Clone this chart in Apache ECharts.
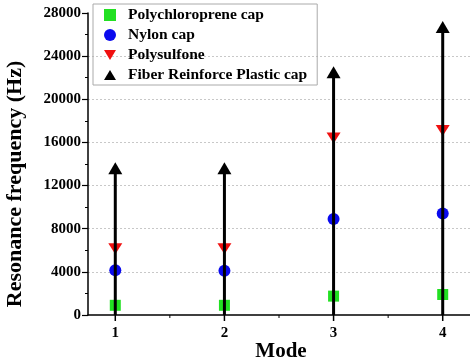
<!DOCTYPE html>
<html><head><meta charset="utf-8">
<script src="https://cdn.jsdelivr.net/npm/echarts@6/dist/echarts.min.js"></script>
<style>html,body{margin:0;padding:0;background:#fff}#c{width:470px;height:364px}</style>
</head><body><div id="c"></div>
<script>
var modes = [1, 2, 3, 4];
var polychloroprene = [900, 900, 1750, 1900];
var nylon = [4150, 4100, 8900, 9400];
var polysulfone = [6150, 6150, 16400, 17100];
var frp = [13600, 13600, 22500, 26700];
var yTicks = [0, 4000, 8000, 12000, 16000, 20000, 24000, 28000];
var names = ['Polychloroprene cap', 'Nylon cap', 'Polysulfone', 'Fiber Reinforce Plastic cap'];

function pts(arr){ return modes.map(function(m,i){ return [m, arr[i]]; }); }
var F = 'Liberation Serif, Times New Roman, serif';
var chart = echarts.init(document.getElementById('c'));
chart.setOption({
  animation: false,
  grid: {left: 88, top: 13, width: 385, height: 302},
  xAxis: {
    type: 'value', min: 0.75, max: 4.25, interval: 0.5,
    axisLine: {lineStyle: {color: '#000', width: 1.5}},
    axisTick: {show: false},
    minorTick: {show: false},
    splitLine: {show: false},
    axisLabel: {show: false}
  },
  yAxis: {
    type: 'value', min: 0, max: 28000, interval: 4000,
    axisLine: {show: true, lineStyle: {color: '#000', width: 1.5}},
    axisTick: {show: true, length: 6, lineStyle: {color: '#000', width: 1.2}},
    minorTick: {show: true, splitNumber: 2, length: 3, lineStyle: {color: '#000', width: 1}},
    splitLine: {show: true, showMinLine: false, showMaxLine: false, lineStyle: {color: '#c8c8c8', type: [2, 2], width: 1}},
    axisLabel: {color: '#000', fontFamily: F, fontWeight: 'bold', fontSize: 15, margin: 7,
      formatter: function(v){ return yTicks.indexOf(v) >= 0 ? String(v) : ''; }}
  },
  legend: {
    orient: 'vertical', left: 93, top: 4, padding: [3, 10, 2, 11],
    itemWidth: 12, itemHeight: 12, itemGap: 4,
    borderColor: '#aaa', borderWidth: 1,
    textStyle: {color: '#000', fontFamily: F, fontWeight: 'bold', fontSize: 15.5, lineHeight: 14, padding: [0, 0, 0, 7]},
    data: [
      {name: names[0], icon: 'rect'},
      {name: names[1], icon: 'circle'},
      {name: names[2], icon: 'path://M0,0 L12,0 L6,10 Z'},
      {name: names[3], icon: 'path://M6,0 L12,10 L0,10 Z'}
    ]
  },
  graphic: [
    {type: 'text', x: 15, y: 184, rotation: Math.PI/2,
      style: {text: 'Resonance frequency (Hz)', font: 'bold 22px ' + F, fill: '#000', align: 'center', verticalAlign: 'middle'}},
    {type: 'text', x: 281, y: 352,
      style: {text: 'Mode', font: 'bold 21px ' + F, fill: '#000', align: 'center', verticalAlign: 'middle'}}
  ],
  series: [
    {type: 'scatter', name: names[0], data: pts(polychloroprene), symbol: 'rect', symbolSize: 11, itemStyle: {color: '#22e022', opacity: 1}, z: 2},
    {type: 'scatter', name: names[1], data: pts(nylon), symbol: 'circle', symbolSize: 12, itemStyle: {color: '#0a0aee', opacity: 1}, z: 2},
    {type: 'scatter', name: names[2], data: pts(polysulfone), symbol: 'triangle', symbolRotate: 180, symbolSize: [14, 11], itemStyle: {color: '#f01010', opacity: 1}, z: 2},
    {type: 'bar', name: 'stem', data: pts(frp), barWidth: 3, itemStyle: {color: '#000'}, z: 3, legendHoverLink: false},
    {type: 'scatter', name: names[3], data: pts(frp), symbol: 'triangle', symbolSize: [14, 12], itemStyle: {color: '#000', opacity: 1}, z: 4},
    {type: 'custom', name: 'xticks', z: 5, silent: true,
      data: [[1],[1.5],[2],[2.5],[3],[3.5],[4]],
      renderItem: function(params, api){
        var v = api.value(0);
        var p = api.coord([v, 0]);
        var major = Math.round(v) === v;
        var children = [{type: 'line', shape: {x1: p[0], y1: p[1], x2: p[0], y2: p[1] + (major ? 6 : 3)}, style: {stroke: '#000', lineWidth: major ? 1.5 : 1}}];
        if (major) children.push({type: 'text', x: p[0], y: p[1] + 18, style: {text: String(v), font: 'bold 15px ' + F, fill: '#000', align: 'center', verticalAlign: 'middle'}});
        return {type: 'group', children: children};
      }
    }
  ]
});
</script></body></html>
